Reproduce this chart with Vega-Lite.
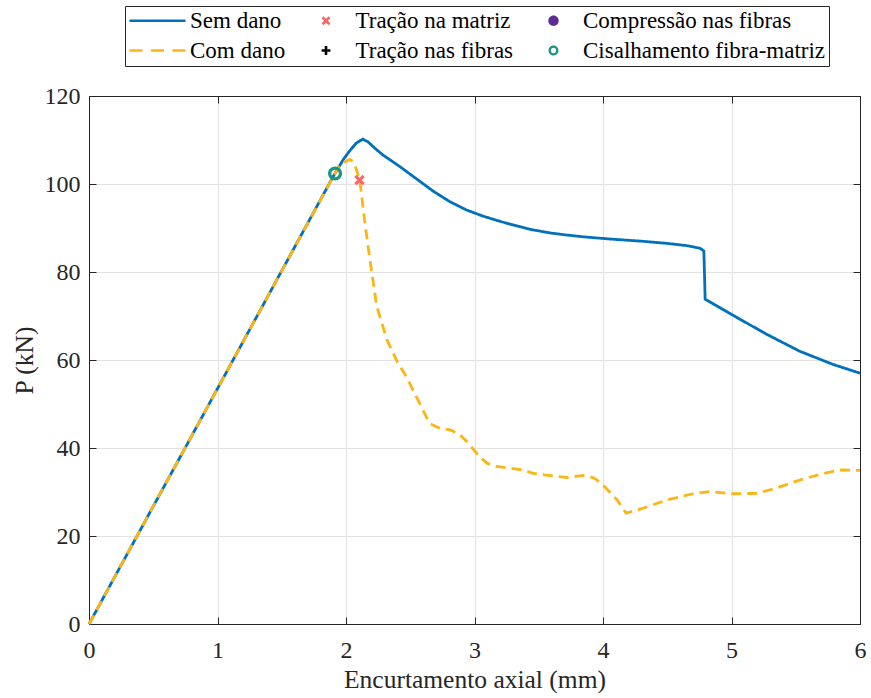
{
  "$schema": "https://vega.github.io/schema/vega-lite/v6.json",
  "width": 771,
  "height": 528,
  "autosize": "none",
  "padding": {"left": 89, "top": 96, "right": 11, "bottom": 74},
  "background": "white",
  "config": {
    "view": {"stroke": null},
    "font": "Liberation Serif",
    "style": {"guide-label": {"font": "Liberation Serif"}, "guide-title": {"font": "Liberation Serif"}},
    "axis": {
      "labelFont": "Liberation Serif",
      "titleFont": "Liberation Serif",
      "labelColor": "#262626",
      "titleColor": "#262626",
      "titleFontWeight": "normal",
      "domainColor": "#262626",
      "tickColor": "#262626",
      "domainWidth": 1,
      "tickWidth": 1,
      "gridColor": "#e2e2e2",
      "gridWidth": 1,
      "labelFlush": false
    }
  },
  "datasets": {
    "curves": [
      {"serie": "Sem dano", "x": 0, "p": 0},
      {"serie": "Sem dano", "x": 1.0, "p": 53.5},
      {"serie": "Sem dano", "x": 1.9, "p": 101.7},
      {"serie": "Sem dano", "x": 1.98, "p": 105.6},
      {"serie": "Sem dano", "x": 2.03, "p": 107.6},
      {"serie": "Sem dano", "x": 2.08, "p": 109.3},
      {"serie": "Sem dano", "x": 2.131, "p": 110.2},
      {"serie": "Sem dano", "x": 2.17, "p": 109.6},
      {"serie": "Sem dano", "x": 2.23, "p": 108.0},
      {"serie": "Sem dano", "x": 2.287, "p": 106.6},
      {"serie": "Sem dano", "x": 2.417, "p": 104.0},
      {"serie": "Sem dano", "x": 2.547, "p": 101.2},
      {"serie": "Sem dano", "x": 2.677, "p": 98.4},
      {"serie": "Sem dano", "x": 2.807, "p": 96.0},
      {"serie": "Sem dano", "x": 2.937, "p": 94.1},
      {"serie": "Sem dano", "x": 3.066, "p": 92.7},
      {"serie": "Sem dano", "x": 3.2, "p": 91.5},
      {"serie": "Sem dano", "x": 3.326, "p": 90.5},
      {"serie": "Sem dano", "x": 3.45, "p": 89.6},
      {"serie": "Sem dano", "x": 3.585, "p": 88.9},
      {"serie": "Sem dano", "x": 3.72, "p": 88.4},
      {"serie": "Sem dano", "x": 3.844, "p": 88.0},
      {"serie": "Sem dano", "x": 4.052, "p": 87.5},
      {"serie": "Sem dano", "x": 4.3, "p": 87.0},
      {"serie": "Sem dano", "x": 4.5, "p": 86.5},
      {"serie": "Sem dano", "x": 4.65, "p": 86.0},
      {"serie": "Sem dano", "x": 4.755, "p": 85.4},
      {"serie": "Sem dano", "x": 4.785, "p": 84.8},
      {"serie": "Sem dano", "x": 4.795, "p": 73.8},
      {"serie": "Sem dano", "x": 5.01, "p": 70.2},
      {"serie": "Sem dano", "x": 5.27, "p": 65.9},
      {"serie": "Sem dano", "x": 5.53, "p": 62.0},
      {"serie": "Sem dano", "x": 5.79, "p": 59.0},
      {"serie": "Sem dano", "x": 6.0, "p": 57.0},
      {"serie": "Com dano", "x": 0, "p": 0},
      {"serie": "Com dano", "x": 1.0, "p": 53.5},
      {"serie": "Com dano", "x": 1.95, "p": 104.3},
      {"serie": "Com dano", "x": 2.03, "p": 105.6},
      {"serie": "Com dano", "x": 2.06, "p": 105.0},
      {"serie": "Com dano", "x": 2.09, "p": 102.5},
      {"serie": "Com dano", "x": 2.11, "p": 100.2},
      {"serie": "Com dano", "x": 2.15, "p": 90.5},
      {"serie": "Com dano", "x": 2.19, "p": 82.0},
      {"serie": "Com dano", "x": 2.24, "p": 72.1},
      {"serie": "Com dano", "x": 2.32, "p": 64.5},
      {"serie": "Com dano", "x": 2.4, "p": 59.5},
      {"serie": "Com dano", "x": 2.47, "p": 56.2},
      {"serie": "Com dano", "x": 2.55, "p": 51.5},
      {"serie": "Com dano", "x": 2.65, "p": 45.6},
      {"serie": "Com dano", "x": 2.72, "p": 44.6},
      {"serie": "Com dano", "x": 2.81, "p": 44.1},
      {"serie": "Com dano", "x": 2.88, "p": 43.2},
      {"serie": "Com dano", "x": 2.94, "p": 41.5},
      {"serie": "Com dano", "x": 3.04, "p": 38.0},
      {"serie": "Com dano", "x": 3.1, "p": 36.5},
      {"serie": "Com dano", "x": 3.17, "p": 35.8},
      {"serie": "Com dano", "x": 3.38, "p": 35.0},
      {"serie": "Com dano", "x": 3.45, "p": 34.3},
      {"serie": "Com dano", "x": 3.54, "p": 33.9},
      {"serie": "Com dano", "x": 3.72, "p": 33.3},
      {"serie": "Com dano", "x": 3.8, "p": 33.6},
      {"serie": "Com dano", "x": 3.86, "p": 33.8},
      {"serie": "Com dano", "x": 3.93, "p": 33.2},
      {"serie": "Com dano", "x": 4.0, "p": 31.6},
      {"serie": "Com dano", "x": 4.11, "p": 28.2},
      {"serie": "Com dano", "x": 4.18, "p": 25.2},
      {"serie": "Com dano", "x": 4.3, "p": 26.2},
      {"serie": "Com dano", "x": 4.5, "p": 28.2},
      {"serie": "Com dano", "x": 4.7, "p": 29.6},
      {"serie": "Com dano", "x": 4.83, "p": 30.1},
      {"serie": "Com dano", "x": 5.0, "p": 29.6},
      {"serie": "Com dano", "x": 5.2, "p": 29.7},
      {"serie": "Com dano", "x": 5.35, "p": 30.9},
      {"serie": "Com dano", "x": 5.53, "p": 32.7},
      {"serie": "Com dano", "x": 5.7, "p": 34.1},
      {"serie": "Com dano", "x": 5.84, "p": 35.0},
      {"serie": "Com dano", "x": 6.0, "p": 34.9}
    ],
    "markers": [
      {"serie": "Cisalhamento fibra-matriz", "x": 1.915, "p": 102.4},
      {"serie": "Tração na matriz", "x": 2.105, "p": 100.9}
    ]
  },
  "resolve": {"axis": {"x": "independent", "y": "independent"}},
  "layer": [
    {
      "data": {"name": "curves"},
      "transform": [{"filter": "datum.serie === 'Sem dano'"}],
      "mark": {"type": "line", "strokeWidth": 2.8},
      "encoding": {
        "x": {"field": "x", "type": "quantitative",
          "scale": {"domain": [0, 6], "nice": false},
          "axis": {"orient": "bottom", "values": [0, 1, 2, 3, 4, 5, 6], "grid": true, "tickSize": -7, "labelFlush": false,
            "labelFont": "Liberation Serif", "titleFont": "Liberation Serif",
            "labelFontSize": 24, "labelPadding": 21, "title": "Encurtamento axial (mm)", "titleFontSize": 25.5, "titlePadding": 5}},
        "y": {"field": "p", "type": "quantitative",
          "scale": {"domain": [0, 120], "nice": false},
          "axis": {"orient": "left", "values": [0, 20, 40, 60, 80, 100, 120], "grid": true, "tickSize": -7, "labelFlush": false,
            "labelFont": "Liberation Serif", "titleFont": "Liberation Serif",
            "labelFontSize": 24, "labelPadding": 16, "title": "P (kN)", "titleFontSize": 25.5, "titlePadding": 7}},
        "stroke": {"field": "serie", "type": "nominal",
          "scale": {"domain": ["Sem dano", "Com dano"], "range": ["#0072BD", "#FDB515"]}, "legend": null},
        "strokeDash": {"field": "serie", "type": "nominal",
          "scale": {"domain": ["Sem dano", "Com dano"], "range": [[1, 0], [10, 6]]}, "legend": null}
      }
    },
    {
      "data": {"name": "curves"},
      "transform": [{"filter": "datum.serie === 'Com dano'"}],
      "mark": {"type": "line", "strokeWidth": 2.8},
      "encoding": {
        "x": {"field": "x", "type": "quantitative", "axis": null},
        "y": {"field": "p", "type": "quantitative", "axis": null},
        "stroke": {"field": "serie", "type": "nominal", "legend": null},
        "strokeDash": {"field": "serie", "type": "nominal", "legend": null}
      }
    },
    {
      "data": {"name": "markers"},
      "transform": [{"filter": "datum.serie === 'Cisalhamento fibra-matriz'"}],
      "mark": {"type": "point", "filled": true, "opacity": 1, "size": 784, "strokeWidth": 0},
      "encoding": {
        "x": {"field": "x", "type": "quantitative", "axis": null},
        "y": {"field": "p", "type": "quantitative", "axis": null},
        "color": {"field": "serie", "type": "nominal",
          "scale": {
            "domain": ["Sem dano", "Tração na matriz", "Compressão nas fibras", "Com dano", "Tração nas fibras", "Cisalhamento fibra-matriz"],
            "range": ["#0072BD", "#FF6464", "#5B2C93", "#FDB515", "#000000", "#1A9685"]
          },
          "legend": {
            "title": null, "orient": "none", "legendX": 36, "legendY": -90,
            "direction": "horizontal", "columns": 3,
            "symbolSize": 400, "symbolOffset": 21, "labelOffset": 18,
            "columnPadding": 7.5, "rowPadding": 6, "padding": 3,
            "strokeColor": "#262626", "fillColor": "white",
            "labelFont": "Liberation Serif", "labelFontSize": 23, "labelColor": "#000000", "labelLimit": 500,
            "symbolStrokeWidth": 0
          }
        },
        "shape": {"field": "serie", "type": "nominal",
          "scale": {
            "domain": ["Sem dano", "Tração na matriz", "Compressão nas fibras", "Com dano", "Tração nas fibras", "Cisalhamento fibra-matriz"],
            "range": [
              "M-3.1,-0.13H2.5V0.13H-3.1Z",
              "M-0.26,-0.44L0.44,0.26L0.26,0.44L-0.44,-0.26ZM-0.44,0.26L0.26,-0.44L0.44,-0.26L-0.26,0.44Z",
              "M0,-0.52A0.52,0.52 0 1,1 0,0.52A0.52,0.52 0 1,1 0,-0.52Z",
              "M-3.1,-0.13H-1.8V0.13H-3.1ZM-0.95,-0.13H0.35V0.13H-0.95ZM1.2,-0.13H2.5V0.13H1.2Z",
              "M-0.13,-0.44H0.13V-0.13H0.44V0.13H0.13V0.44H-0.13V0.13H-0.44V-0.13H-0.13Z",
              "M0,-0.5A0.5,0.5 0 1,1 0,0.5A0.5,0.5 0 1,1 0,-0.5ZM0,-0.27A0.27,0.27 0 1,0 0,0.27A0.27,0.27 0 1,0 0,-0.27Z"
            ]
          },
          "legend": {
            "title": null, "orient": "none", "legendX": 36, "legendY": -90,
            "direction": "horizontal", "columns": 3,
            "symbolSize": 400, "symbolOffset": 21, "labelOffset": 18,
            "columnPadding": 7.5, "rowPadding": 6, "padding": 3,
            "strokeColor": "#262626", "fillColor": "white",
            "labelFont": "Liberation Serif", "labelFontSize": 23, "labelColor": "#000000", "labelLimit": 500,
            "symbolStrokeWidth": 0
          }
        }
      }
    },
    {
      "data": {"name": "markers"},
      "transform": [{"filter": "datum.serie === 'Tração na matriz'"}],
      "mark": {"type": "point", "filled": true, "opacity": 1, "size": 560, "strokeWidth": 0},
      "encoding": {
        "x": {"field": "x", "type": "quantitative",
          "axis": {"orient": "top", "values": [0, 1, 2, 3, 4, 5, 6], "labels": false, "grid": false, "tickSize": -7, "title": null}},
        "y": {"field": "p", "type": "quantitative",
          "axis": {"orient": "right", "values": [0, 20, 40, 60, 80, 100, 120], "labels": false, "grid": false, "tickSize": -7, "title": null}},
        "color": {"field": "serie", "type": "nominal"},
        "shape": {"field": "serie", "type": "nominal"}
      }
    }
  ]
}
